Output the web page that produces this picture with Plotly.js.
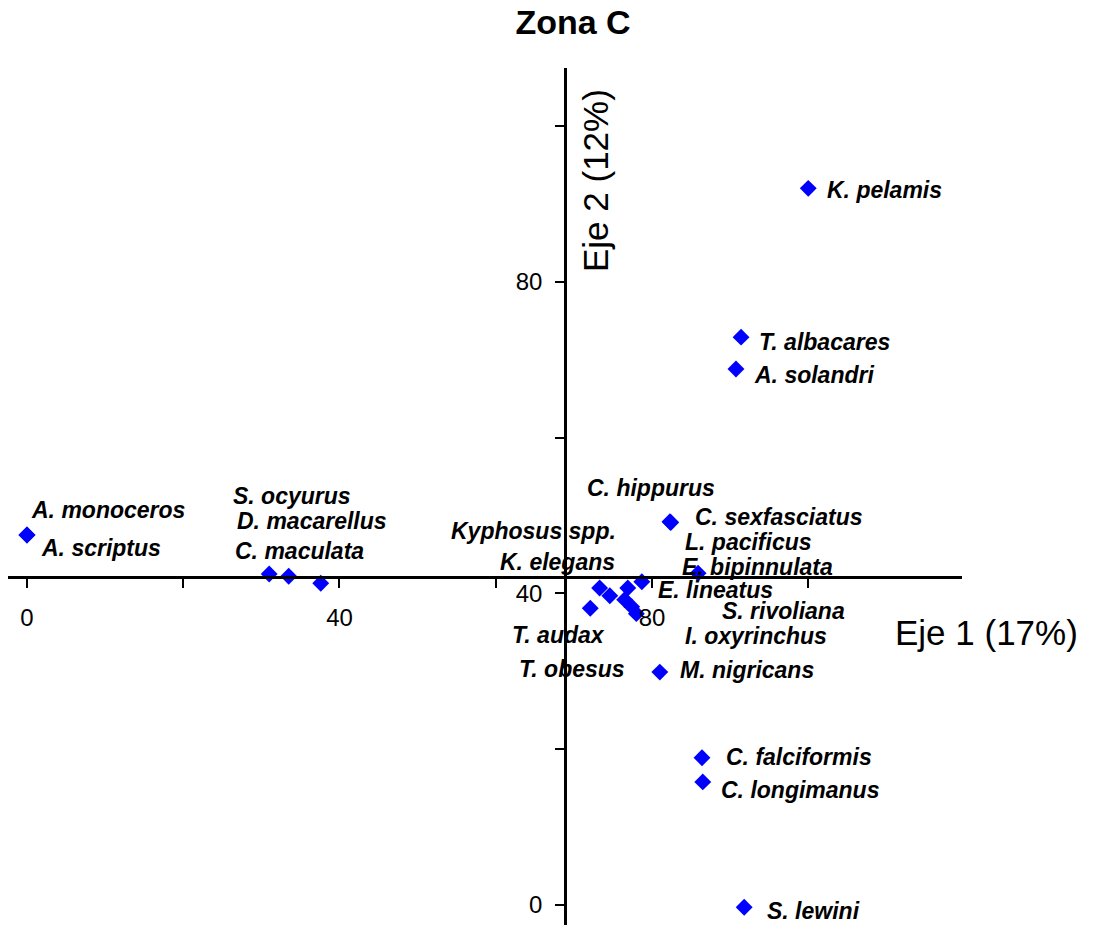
<!DOCTYPE html>
<html>
<head>
<meta charset="utf-8">
<script src="https://cdn.plot.ly/plotly-3.0.1.min.js"></script>
<style>html,body{margin:0;padding:0;background:#fff;}#chart{width:1094px;height:925px;}</style>
</head>
<body>
<div id="chart"></div>
<script>
// ---- data ----
const species = [
  "K. pelamis", "T. albacares", "A. solandri", "C. hippurus", "C. sexfasciatus",
  "L. pacificus", "E. bipinnulata", "E. lineatus", "S. rivoliana", "I. oxyrinchus",
  "M. nigricans", "C. falciformis", "C. longimanus", "S. lewini",
  "A. monoceros", "A. scriptus", "S. ocyurus", "D. macarellus", "C. maculata",
  "Kyphosus spp.", "K. elegans", "T. audax", "T. obesus"
];
const eje1 = [
  100.0, 91.4, 90.75, 82.3, 82.4,
  85.9, 76.9, 78.7, 77.4, 78.0,
  81.0, 86.4, 86.5, 91.8,
  0.0, 0.0, 31.0, 33.5, 37.6,
  73.3, 74.6, 72.1, 76.5
];
const eje2 = [
  92.0, 72.9, 68.8, 49.2, 49.1,
  42.6, 40.7, 41.5, 38.3, 37.4,
  29.9, 18.9, 15.8, -0.3,
  47.5, 47.5, 42.5, 42.2, 41.3,
  40.7, 39.7, 38.1, 39.2
];
const tickVals = [0, 20, 40, 60, 80, 100];
const tickText = ["0", "", "40", "", "80", ""];
const chartTitle = "Zona C";
const xTitle = "Eje 1 (17%)";
const yTitle = "Eje 2 (12%)";

// ---- label placement (pixel offsets from each point: dx, dy(down), anchor) ----
const labelOffsets = [
  [17, 2, "left"], [16, 5, "left"], [16, 6, "left"], [-85, -34, "left"], [22, -6, "left"],
  [-15, -31, "left"], [52, -21, "left"], [14, 8, "left"], [88, 4, "left"], [47, 22, "left"],
  [18, -2, "left"], [22, -1, "left"], [16, 8, "left"], [21, 4, "left"],
  [2, -25, "left"], [12, 13, "left"], [-38, -78, "left"], [-54, -55, "left"], [-88, -32, "left"],
  [18, -57, "right"], [7, -34, "right"], [17, 27, "right"], [2, 69, "right"]
];

const FONT = "Arial, 'Liberation Sans', sans-serif";
const xRange = [-2.43, 119.68];
const yRange = [-2.57, 107.45];
const xCross = 42.1;  // y value where the horizontal axis crosses
const yCross = 68.9;  // x value where the vertical axis crosses

const annotations = species.map((s, i) => ({
  x: eje1[i], y: eje2[i], xref: "x", yref: "y",
  text: "<b><i>" + s + "</i></b>",
  showarrow: false,
  xanchor: labelOffsets[i][2], yanchor: "middle",
  xshift: labelOffsets[i][0], yshift: -labelOffsets[i][1],
  font: {family: FONT, size: 23, color: "#000"}
}));
annotations.push({
  xref: "paper", yref: "paper", x: (893 - 8) / 954, y: (925 - 632) / 857,
  xanchor: "left", yanchor: "middle", showarrow: false,
  text: xTitle, font: {family: FONT, size: 35, color: "#000"}
});
annotations.push({
  xref: "paper", yref: "paper", x: (596 - 8) / 954, y: (925 - 181) / 857,
  xanchor: "center", yanchor: "middle", showarrow: false, textangle: -90,
  text: yTitle, font: {family: FONT, size: 35, color: "#000"}
});

const trace = {
  x: eje1, y: eje2, text: species, type: "scatter", mode: "markers",
  marker: {symbol: "diamond", size: 13, color: "#0000FF", line: {width: 0}},
  cliponaxis: false, hoverinfo: "text"
};

const layout = {
  width: 1094, height: 925,
  margin: {l: 8, r: 132, t: 68, b: 0, pad: 0},
  paper_bgcolor: "#fff", plot_bgcolor: "#fff",
  showlegend: false,
  title: {
    text: "<b>" + chartTitle + "</b>", x: 573 / 1094, xref: "container", xanchor: "center",
    y: 1 - 22 / 925, yanchor: "middle", yref: "container",
    font: {family: FONT, size: 34, color: "#000"}
  },
  xaxis: {
    range: xRange, autorange: false, anchor: "free",
    position: (xCross - yRange[0]) / (yRange[1] - yRange[0]),
    showgrid: false, zeroline: false, showline: true, linecolor: "#000", linewidth: 3,
    ticks: "outside", ticklen: 9, tickwidth: 2, tickcolor: "#000",
    tickmode: "array", tickvals: tickVals, ticktext: tickText,
    ticklabelstandoff: 9,
    tickfont: {family: FONT, size: 24, color: "#000"}
  },
  yaxis: {
    range: yRange, autorange: false, anchor: "free",
    position: (yCross - xRange[0]) / (xRange[1] - xRange[0]),
    showgrid: false, zeroline: false, showline: true, linecolor: "#000", linewidth: 3,
    ticks: "outside", ticklen: 9, tickwidth: 2, tickcolor: "#000",
    tickmode: "array", tickvals: tickVals, ticktext: tickText,
    ticklabelstandoff: 8,
    tickfont: {family: FONT, size: 24, color: "#000"}
  },
  annotations: annotations
};

Plotly.newPlot("chart", [trace], layout, {displayModeBar: false, staticPlot: true});
</script>
</body>
</html>
